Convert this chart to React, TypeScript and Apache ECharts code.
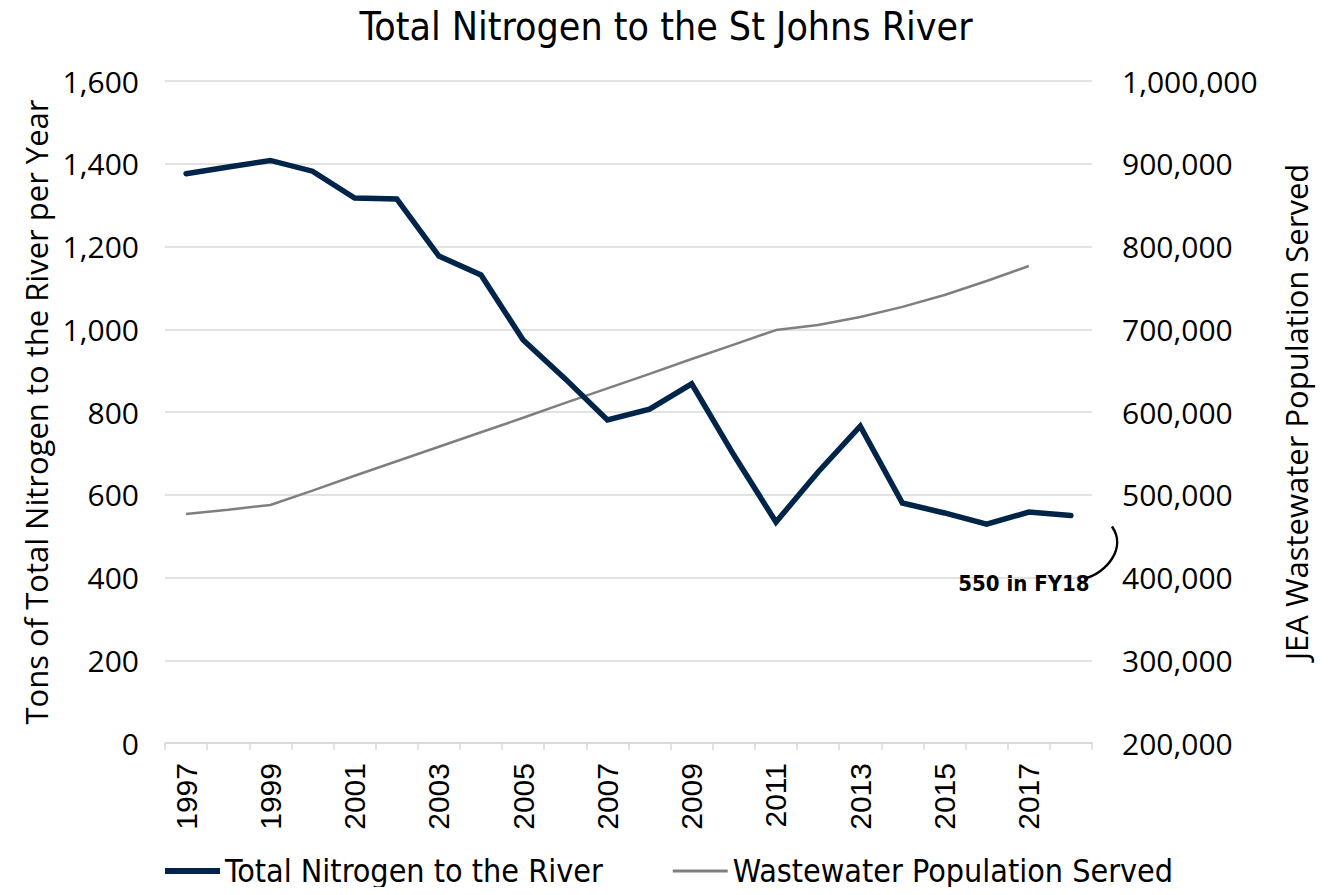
import React, { useEffect, useRef } from "react";
import * as echarts from "echarts";

const years = [
  "1997", "1998", "1999", "2000", "2001", "2002", "2003", "2004", "2005", "2006", "2007",
  "2008", "2009", "2010", "2011", "2012", "2013", "2014", "2015", "2016", "2017", "2018",
];
const nitrogen = [
  1376, 1392, 1408, 1382, 1317, 1315, 1177, 1131, 974, 880, 781,
  807, 868, 696, 534, 655, 766, 580, 556, 529, 558, 550,
];
const population: (number | null)[] = [
  476700, 482000, 487600, 505000, 523000, 540500, 558000, 575500, 593000, 611000, 628500,
  646000, 664000, 681500, 699000, 705100, 714800, 727000, 741400, 758300, 776400, null,
];
const leftTicks = { min: 0, max: 1600, interval: 200 };
const rightTicks = { min: 200000, max: 1000000, interval: 100000 };

const tickFont = "'Open Sans', 'DejaVu Sans', sans-serif";
const yearFont = "'Liberation Sans', Arial, sans-serif";
const narrowFont = "'Liberation Sans Narrow', 'DejaVu Sans Condensed', 'Liberation Sans', sans-serif";

export default function App() {
  const ref = useRef<HTMLDivElement>(null);
  useEffect(() => {
    if (!ref.current) return;
    const chart = echarts.init(ref.current, null, { renderer: "svg" });
    const fmt = (v: number) => v.toLocaleString("en-US");
    chart.setOption({
      animation: false,
      backgroundColor: "#ffffff",
      title: {
        text: "Total Nitrogen to the St Johns River",
        left: "center",
        top: 2,
        textStyle: { fontFamily: narrowFont, fontSize: 39, fontWeight: "normal", color: "#000" },
      },
      legend: {
        bottom: 3,
        left: 160,
        itemWidth: 55,
        itemHeight: 6,
        itemGap: 70,
        textStyle: { fontFamily: narrowFont, fontSize: 32, color: "#000" },
        data: [
          { name: "Total Nitrogen to the River", icon: "path://M0 0H55V6H0Z" },
          { name: "Wastewater Population Served", icon: "path://M0 0H55V3H0Z" },
        ],
      },
      grid: { left: 165, right: 240, top: 81, bottom: 152 },
      xAxis: {
        type: "category",
        data: years,
        boundaryGap: true,
        axisLine: { lineStyle: { color: "#d9d9d9", width: 1.5 } },
        axisTick: { show: true, interval: 0, length: 7, lineStyle: { color: "#d9d9d9", width: 1.5 } },
        axisLabel: {
          interval: 1,
          rotate: 90,
          fontFamily: yearFont,
          fontSize: 30,
          color: "#000",
          margin: 20,
        },
      },
      yAxis: [
        {
          type: "value",
          ...leftTicks,
          name: "Tons of Total Nitrogen to the River per Year",
          nameLocation: "middle",
          nameGap: 113,
          nameRotate: 90,
          nameTextStyle: { fontFamily: tickFont, fontSize: 31, color: "#000" },
          axisLine: { show: false },
          axisTick: { show: false },
          splitLine: { lineStyle: { color: "#d9d9d9", width: 1.5 } },
          axisLabel: { formatter: fmt, fontFamily: tickFont, fontSize: 30, color: "#000", margin: 26 },
        },
        {
          type: "value",
          ...rightTicks,
          position: "right",
          name: "JEA Wastewater Population Served",
          nameLocation: "middle",
          nameGap: 188,
          nameRotate: 90,
          nameTextStyle: { fontFamily: tickFont, fontSize: 31, color: "#000" },
          axisLine: { show: false },
          axisTick: { show: false },
          splitLine: { show: false },
          axisLabel: { formatter: fmt, fontFamily: tickFont, fontSize: 30, color: "#000", margin: 30 },
        },
      ],
      series: [
        {
          name: "Total Nitrogen to the River",
          type: "line",
          data: nitrogen,
          yAxisIndex: 0,
          symbol: "none",
          z: 3,
          lineStyle: { color: "#002548", width: 5.5, cap: "round", join: "miter" },
          itemStyle: { color: "#002548" },
        },
        {
          name: "Wastewater Population Served",
          type: "line",
          data: population,
          yAxisIndex: 1,
          symbol: "none",
          z: 2,
          lineStyle: { color: "#7f7f7f", width: 2.5 },
          itemStyle: { color: "#7f7f7f" },
        },
      ],
    });
    const p = chart.convertToPixel({ xAxisIndex: 0, yAxisIndex: 0 }, ["2018", 550]) as number[];
    const [px, py] = p;
    chart.setOption({
      graphic: [
        {
          type: "text",
          x: px - 47,
          y: py + 68,
          style: {
            text: "550 in FY18",
            fontFamily: narrowFont,
            fontWeight: "bold",
            fontSize: 22,
            fill: "#000",
            align: "center",
            verticalAlign: "middle",
          },
        },
        {
          type: "bezierCurve",
          shape: {
            x1: px + 41, y1: py + 11,
            cpx1: px + 56, cpy1: py + 32,
            cpx2: px + 36, cpy2: py + 58,
            x2: px + 13, y2: py + 63,
          },
          style: { stroke: "#000", lineWidth: 2.5, fill: "none" },
        },
      ],
    });
    return () => chart.dispose();
  }, []);
  return <div ref={ref} style={{ width: 1332, height: 895, margin: -8 }} />;
}
